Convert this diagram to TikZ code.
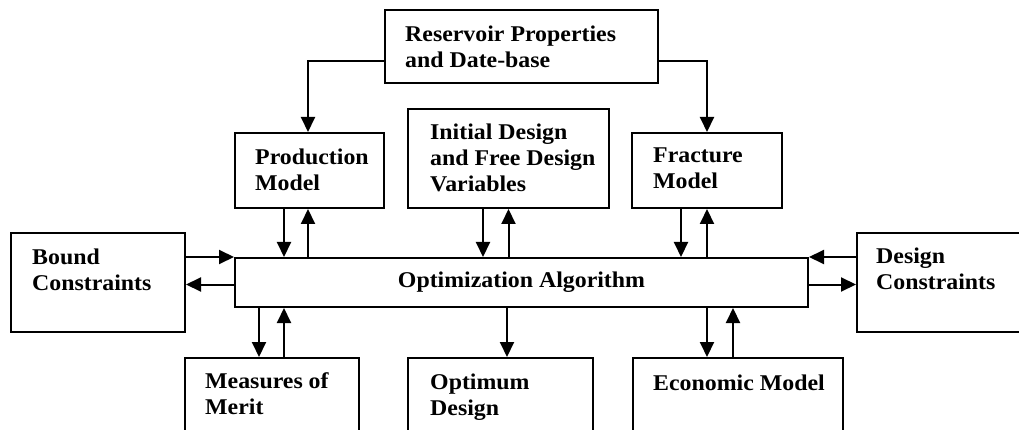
\documentclass[tikz,border=0pt]{standalone}
\usepackage{fontspec}
\newfontfamily\figfont[FakeStretch=1.06]{Liberation Serif}
\usetikzlibrary{arrows.meta}
\newcommand{\boxtext}[1]{\begin{tabular}[t]{@{}l@{}}#1\end{tabular}}
\begin{document}
\begin{tikzpicture}[x=1pt,y=-1pt,
  box/.style={draw,line width=2pt,rectangle,inner sep=0pt},
  lbl/.style={inner sep=0pt,anchor=base west,font=\figfont\bfseries\fontsize{22.5}{26}\selectfont},
  arr/.style={line width=2pt,-{Triangle[length=15pt,width=14pt]}}]
\useasboundingbox (0,0) rectangle (1019,430);
\clip (0,0) rectangle (1019,430);
% boxes
\node[box,minimum width=273pt,minimum height=73pt] (res) at (521.5,46.5) {};
\node[box,minimum width=149pt,minimum height=75pt] (prod) at (309.5,170.5) {};
\node[box,minimum width=201pt,minimum height=99pt] (init) at (508.5,158.5) {};
\node[box,minimum width=150pt,minimum height=75pt] (frac) at (707,170.5) {};
\node[box,minimum width=174pt,minimum height=99pt] (bound) at (98,282.5) {};
\node[box,minimum width=573pt,minimum height=49pt] (opt) at (521.5,282.5) {};
\node[box,minimum width=170pt,minimum height=99pt] (design) at (942,282.5) {};
\node[box,minimum width=174pt,minimum height=100pt] (meas) at (272,408) {};
\node[box,minimum width=185pt,minimum height=100pt] (optd) at (500.5,408) {};
\node[box,minimum width=210pt,minimum height=100pt] (econ) at (738,408) {};
% texts
\node[lbl] (resT) at (405,42) {\boxtext{Reservoir Properties\\and Date-base}};
\node[lbl] (prodT) at (255,165) {\boxtext{Production\\Model}};
\node[lbl] (initT) at (430,140) {\boxtext{Initial Design\\and Free Design\\Variables}};
\node[lbl] (fracT) at (653,163) {\boxtext{Fracture\\Model}};
\node[lbl] (boundT) at (32,264) {\boxtext{Bound\\Constraints}};
\node[lbl] (designT) at (876,263) {\boxtext{Design\\Constraints}};
\node[lbl,anchor=center] (optT) at (opt.center) {Optimization Algorithm};
\node[lbl] (measT) at (205,388) {\boxtext{Measures of\\Merit}};
\node[lbl] (optdT) at (430,389) {\boxtext{Optimum\\Design}};
\node[lbl] (econT) at (653,390) {Economic Model};
% connectors
\draw[arr] ([yshift=23pt]res.south west) -| ([xshift=74pt]prod.north west);
\draw[arr] ([yshift=23pt]res.south east) -| (frac.north);
\draw[arr] ([xshift=50pt]prod.south west) -- ([xshift=50pt]prod.south west |- opt.north);
\draw[arr] ([xshift=74pt]opt.north west) -- ([xshift=74pt]prod.south west);
\draw[arr] ([xshift=76pt]init.south west) -- ([xshift=76pt]init.south west |- opt.north);
\draw[arr] (init.south |- opt.north) -- (init.south);
\draw[arr] ([xshift=50pt]frac.south west) -- ([xshift=50pt]frac.south west |- opt.north);
\draw[arr] (frac.south |- opt.north) -- (frac.south);
\draw[arr] (bound.east |- opt.north west) -- (opt.north west);
\draw[arr] ([yshift=-2pt]opt.west) -- ([yshift=-2pt]opt.west -| bound.east);
\draw[arr] (design.west |- opt.north east) -- (opt.north east);
\draw[arr] ([yshift=-2pt]opt.east) -- ([yshift=-2pt]opt.east -| design.west);
\draw[arr] ([xshift=25pt]opt.south west) -- ([xshift=25pt]opt.south west |- meas.north);
\draw[arr] ([xshift=50pt]opt.south west |- meas.north) -- ([xshift=50pt]opt.south west);
\draw[arr] ([xshift=100pt]optd.north west |- opt.south) -- ([xshift=100pt]optd.north west);
\draw[arr] (frac.south |- opt.south) -- (frac.south |- econ.north);
\draw[arr] ([xshift=26pt]frac.south |- econ.north) -- ([xshift=26pt]frac.south |- opt.south);
\end{tikzpicture}
\end{document}
